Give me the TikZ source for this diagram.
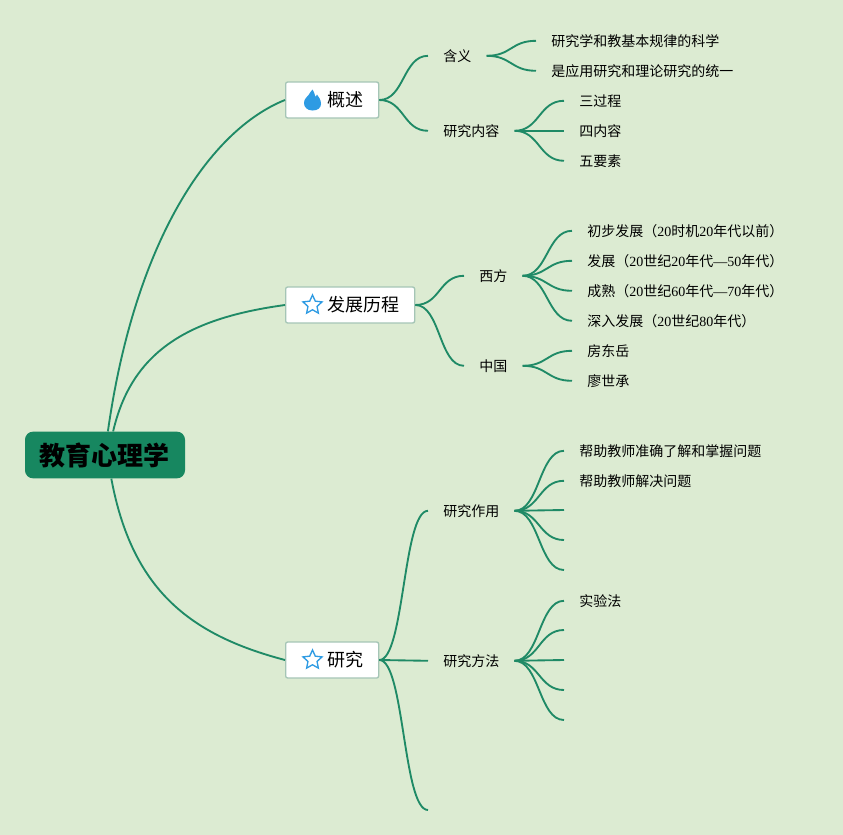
\documentclass[tikz,border=0pt]{standalone}
\usepackage{fontspec}
\setmainfont{Noto Sans CJK SC}
\newfontfamily\latinf{Liberation Serif}
\usetikzlibrary{shapes.geometric}
\definecolor{bgcol}{HTML}{DCEBD2}
\definecolor{linecol}{HTML}{1F8A66}
\definecolor{rootcol}{HTML}{178760}
\definecolor{boxcol}{HTML}{A5C5B6}
\definecolor{iconcol}{HTML}{2E9BE3}
\newcommand{\lat}[1]{{\latinf #1}}
\tikzset{
	root/.style={fill=rootcol,rounded corners=6pt,minimum width=120pt,minimum height=35pt,font=\fontsize{19.5pt}{22pt}\selectfont\bfseries},
	topic/.style={draw=boxcol,line width=1pt,fill=white,rounded corners=1.5pt,anchor=west,minimum height=27pt,inner xsep=11.25pt,font=\fontsize{13.5pt}{16pt}\selectfont},
	sub/.style={anchor=west,inner xsep=11.25pt,inner ysep=0pt,yshift=-0.6pt,font=\fontsize{10.5pt}{13pt}\selectfont},
	staricon/.style={star,star points=5,star point ratio=2.1,draw=iconcol,fill=white,line width=1pt,minimum size=15pt,inner sep=0pt},
	link/.style={draw=linecol,line width=1.4pt,to path={.. controls +(25,0) and +(-25,0) .. (\tikztotarget)}},
	rootlink/.style={draw=linecol,line width=1.4pt}
}
\begin{document}
\begin{tikzpicture}[x=0.75pt,y=-0.75pt]
\useasboundingbox[fill=bgcol] (0,0) rectangle (843,835);
% main nodes
\node [root] (root) at (105,455) {教育心理学};
\node [topic] (gaishu) at (285,100) {\hspace*{20.25pt}概述};
\node [topic] (licheng) at (285,305) {\hspace*{20.25pt}发展历程};
\node [topic] (yanjiu) at (285,660) {\hspace*{20.25pt}研究};
\node [staricon] (star2) at (312.5,305) {};
\node [staricon] (star3) at (312.5,660) {};
% flame
\fill [iconcol] (312.5,110.5) .. controls (307,110.5) and (304,107) .. (304,103) .. controls (304,99) and (307,97) .. (308.5,95) .. controls (310,93) and (311,91) .. (312.5,89.5) .. controls (314,91.5) and (314.5,94) .. (315.5,97) .. controls (316,96) and (316.5,95.5) .. (317,94.5) .. controls (319,97) and (321,100) .. (321,104) .. controls (321,108) and (317.5,110.5) .. (312.5,110.5) -- cycle;
\draw [rootlink] (root.83) .. controls (135,240) and (210,130) .. (gaishu.west);
\draw [rootlink] (root.71) .. controls (132,350) and (190,318) .. (licheng.west);
\draw [rootlink] (root.-75) .. controls (132,590) and (190,635) .. (yanjiu.west);
% second level
\node [sub] (hanyi) at (428,55) {含义};
\node [sub] (neirong) at (428,130) {研究内容};
\node [sub] (xifang) at (464,275) {西方};
\node [sub] (zhongguo) at (464,365) {中国};
\node [sub] (zuoyong) at (428,510) {研究作用};
\node [sub] (fangfa) at (428,660) {研究方法};
\coordinate (yanjiu3) at (428,810);
\foreach \from/\to in {gaishu/hanyi,gaishu/neirong,licheng/xifang,licheng/zhongguo,yanjiu/zuoyong,yanjiu/fangfa}
	\draw [link] (\from.east) to (\to.west);
\draw [link] (yanjiu.east) to (yanjiu3);
% leaves
\foreach \i/\y/\txt in {1/40/研究学和教基本规律的科学,2/70/是应用研究和理论研究的统一}{
	\node [sub] (hanyi\i) at (536,\y) {\txt};
	\draw [link] (hanyi.east) to (hanyi\i.west);
}
\foreach \i/\y/\txt in {1/100/三过程,2/130/四内容,3/160/五要素}{
	\node [sub] (neirong\i) at (564,\y) {\txt};
	\draw [link] (neirong.east) to (neirong\i.west);
}
\foreach \i/\y/\txt in {1/230/{初步发展（\lat{20}时机\lat{20}年代以前）},2/260/{发展（\lat{20}世纪\lat{20}年代\lat{—50}年代）},3/290/{成熟（\lat{20}世纪\lat{60}年代\lat{—70}年代）},4/320/{深入发展（\lat{20}世纪\lat{80}年代）}}{
	\node [sub] (xifang\i) at (572,\y) {\txt};
	\draw [link] (xifang.east) to (xifang\i.west);
}
\foreach \i/\y/\txt in {1/350/房东岳,2/380/廖世承}{
	\node [sub] (zhongguo\i) at (572,\y) {\txt};
	\draw [link] (zhongguo.east) to (zhongguo\i.west);
}
\foreach \i/\y/\txt in {1/450/帮助教师准确了解和掌握问题,2/480/帮助教师解决问题}{
	\node [sub] (zuoyong\i) at (564,\y) {\txt};
	\draw [link] (zuoyong.east) to (zuoyong\i.west);
}
\foreach \i/\y in {3/510,4/540,5/570}{
	\coordinate (zuoyong\i) at (564,\y);
	\draw [link] (zuoyong.east) to (zuoyong\i);
}
\node [sub] (fangfa1) at (564,600) {实验法};
\draw [link] (fangfa.east) to (fangfa1.west);
\foreach \i/\y in {2/630,3/660,4/690,5/720}{
	\coordinate (fangfa\i) at (564,\y);
	\draw [link] (fangfa.east) to (fangfa\i);
}
\end{tikzpicture}
\end{document}
